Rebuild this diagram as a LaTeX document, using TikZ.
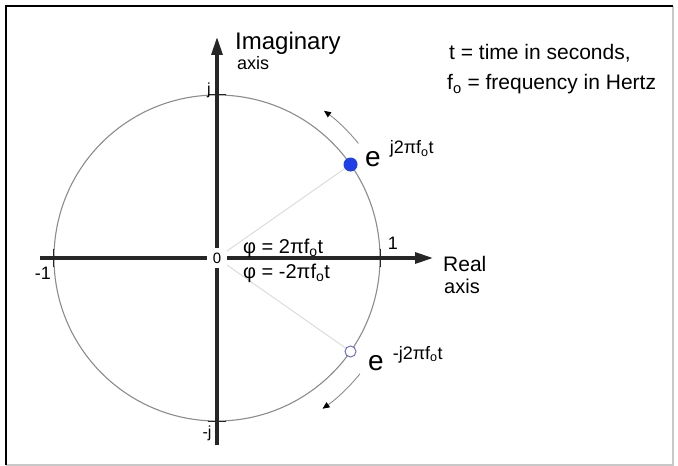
\documentclass[tikz,border=0pt]{standalone}
\usepackage{fontspec}
\setmainfont{Liberation Sans}
\usepackage{tikz}
\usetikzlibrary{positioning,arrows.meta}
\definecolor{punto}{HTML}{1F3FE8}
\definecolor{hueco}{HTML}{7070C8}
\definecolor{circulo}{HTML}{8C8C8C}
\definecolor{radio}{HTML}{DCDCDC}
\definecolor{marco}{HTML}{C8C8C8}
\newcommand{\fs}[1]{\fontsize{#1}{#1}\selectfont}

\begin{document}
\begin{tikzpicture}[x=1pt, y=1pt,
  eje/.style={line width=3.2pt, draw=black!85, -{Triangle[length=18pt,width=11pt]}},
  lbl/.style={inner sep=0pt, anchor=base west},
  giro/.style={draw=black!45, line width=0.9pt, -{Triangle[length=7pt,width=6pt,color=black]}},
  marca/.style={line width=1pt, draw=black!85}]
  \useasboundingbox (-217,-208) rectangle (461,258);
  % frame
  \draw[marco, line width=1.2pt] (-211,-207) -- (456,-207) -- (456,252);
  \draw[black, line width=1.6pt] (-211,-207) -- (-211,252) -- (456,252);
  % unit circle and radii
  \coordinate (O) at (0,0);
  \draw[circulo, line width=1.1pt] (O) circle (163);
  \coordinate (pup) at (35:163);
  \coordinate (pdn) at (-35:163);
  \draw[radio, line width=1pt] (O) -- (pup);
  \draw[radio, line width=1pt] (O) -- (pdn);
  % axes
  \coordinate (xl) at (-177,0); \coordinate (xr) at (216,0);
  \coordinate (yb) at (0,-187); \coordinate (yt) at (0,221);
  \draw[eje] (xl) -- (xr);
  \draw[eje] (yb) -- (yt);
  \foreach \p in {-163,163}{
    \draw[marca] (\p,-9) -- (\p,9);
    \draw[marca] (-9,\p) -- (9,\p);
  }
  \node[fill=white, inner sep=0pt, minimum size=20pt, font=\fs{15}] (zero) at (O) {0};
  % rotating phasors
  \node[circle, fill=punto, inner sep=0pt, minimum size=14pt] (ejp) at (pup) {};
  \node[circle, draw=hueco, line width=1pt, fill=white, inner sep=0pt, minimum size=11pt] (ejn) at (pdn) {};
  \coordinate (gu1) at (39:182);
  \coordinate (gd1) at (-39:184);
  \draw[giro] (gu1) arc[start angle=39, end angle=54, radius=182];
  \draw[giro] (gd1) arc[start angle=-39, end angle=-55, radius=184];
  % labels
  \node[lbl] (eup) at (148,91) {\fs{28}e\hspace{9pt}\raisebox{13pt}{\fs{18}j2πf\textsubscript{o}t}};
  \node[lbl] (edn) at (151,-112) {\fs{28}e\hspace{9pt}\raisebox{11pt}{\fs{18}-j2πf\textsubscript{o}t}};
  \node[lbl, font=\fs{20}] (phiup) at (26,5) {φ = 2πf\textsubscript{o}t};
  \node[lbl, font=\fs{20}] (phidn) at (26,-20) {φ = -2πf\textsubscript{o}t};
  \node[font=\fs{18}] (uno) at (176,15) {1};
  \node[font=\fs{18}] (muno) at (-174,-15) {-1};
  \node[font=\fs{16}] (jj) at (-8,168) {j};
  \node[font=\fs{16}] (mjj) at (-10,-175) {-j};
  \node[lbl, font=\fs{24}] (imag) at (18,208) {Imaginary};
  \node[lbl, font=\fs{18}] (imagax) at (20,188) {axis};
  \node[lbl, font=\fs{21}] (real) at (226,-14) {Real};
  \node[lbl, font=\fs{20}] (realax) at (227,-35) {axis};
  \node[lbl, font=\fs{21}] (tdef) at (232,198) {t = time in seconds,};
  \node[lbl, font=\fs{21}] (fdef) at (230,168) {f\textsubscript{o} = frequency in Hertz};
\end{tikzpicture}
\end{document}
